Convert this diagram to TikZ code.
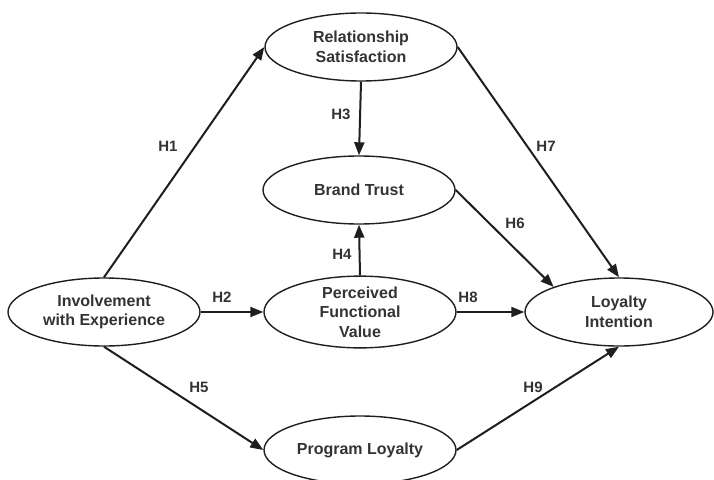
\documentclass[tikz,border=0pt]{standalone}
\usepackage{fontspec}
\setmainfont{Liberation Sans}
\usetikzlibrary{shapes.geometric,arrows.meta}
\definecolor{ink}{HTML}{1E1E1E}
\definecolor{txt}{HTML}{333333}
\begin{document}
\begin{tikzpicture}[x=1pt,y=-1pt,
  construct/.style={draw=ink,line width=1.4pt,ellipse,minimum width=192pt,minimum height=68pt,inner sep=0pt,align=center,text=txt,font=\fontsize{16}{19.5}\selectfont\bfseries},
  hyp/.style={text=txt,font=\fontsize{15}{17}\selectfont\bfseries,inner sep=0pt},
  path/.style={draw=ink,line width=2pt,-{Triangle[length=13pt,width=10pt]}}]
\useasboundingbox (0,0) rectangle (714,479);
\node[construct] (rs) at (361,47) {Relationship\\Satisfaction};
\node[construct] (bt) at (359,190) {Brand Trust};
\node[construct] (pfv) at (360,312) {Perceived\\Functional\\Value};
\node[construct] (inv) at (104,312) {Involvement\\with Experience};
\node[construct,minimum width=188pt] (li) at (619,312) {Loyalty\\Intention};
\node[construct] (pl) at (360,450) {Program Loyalty};
\draw[path] (inv.north) -- (rs.west);
\draw[path] (rs.south) -- (bt.north);
\draw[path] (rs.east) -- (li.north);
\draw[path] (bt.east) -- (li.159);
\draw[path] (pfv.north) -- (bt.south);
\draw[path] (inv.east) -- (pfv.west);
\draw[path] (pfv.east) -- (li.west);
\draw[path] (inv.south) -- (pl.west);
\draw[path] (pl.east) -- (li.south);
\node[hyp] (h1) at (168,146) {H1};
\node[hyp] (h2) at (222,297) {H2};
\node[hyp] (h3) at (341,114) {H3};
\node[hyp] (h4) at (342,254) {H4};
\node[hyp] (h5) at (199,387) {H5};
\node[hyp] (h6) at (515,223) {H6};
\node[hyp] (h7) at (546,146) {H7};
\node[hyp] (h8) at (468,297) {H8};
\node[hyp] (h9) at (533,387) {H9};
\end{tikzpicture}
\end{document}
